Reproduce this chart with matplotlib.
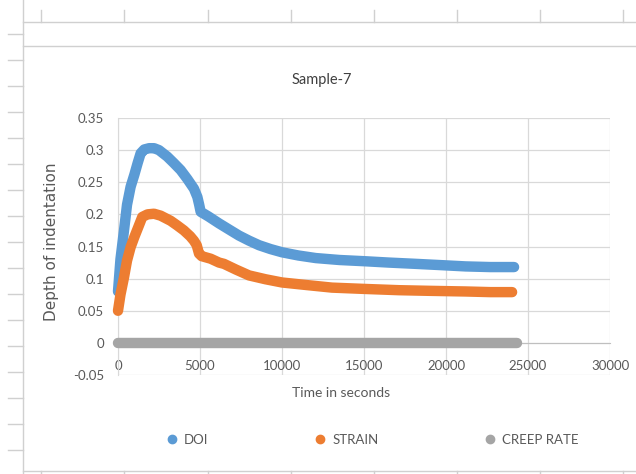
import matplotlib.pyplot as plt
from matplotlib.lines import Line2D

# values (time in s, depth)
doi_t = [0, 150, 366, 550, 770, 1000, 1200, 1380, 1600, 1900, 2200, 2500, 3000, 3400,
         3820, 4230, 4630, 4840, 4950, 5040, 5500, 6160, 6800, 7380, 8000, 8600, 9300,
         10000, 11000, 12060, 13500, 15100, 16500, 18150, 19700, 21200, 22700, 24150]
doi_v = [0.08, 0.13, 0.175, 0.215, 0.243, 0.262, 0.28, 0.295, 0.301, 0.303, 0.303, 0.3,
         0.29, 0.28, 0.269, 0.255, 0.24, 0.227, 0.215, 0.204, 0.197, 0.186, 0.176, 0.167,
         0.159, 0.152, 0.146, 0.141, 0.136, 0.132, 0.129, 0.127, 0.125, 0.123, 0.121,
         0.119, 0.118, 0.118]

strain_t = [0, 150, 366, 550, 770, 1000, 1280, 1480, 1800, 2195, 2600, 3210, 3600, 4020,
            4400, 4630, 4800, 4940, 5100, 5650, 6160, 6460, 7200, 7990, 9000, 10000,
            11500, 13050, 15000, 17130, 19000, 21200, 22700, 24030]
strain_v = [0.05, 0.075, 0.102, 0.128, 0.149, 0.165, 0.183, 0.196, 0.2, 0.201, 0.198,
            0.19, 0.183, 0.175, 0.166, 0.159, 0.152, 0.139, 0.135, 0.131, 0.125, 0.123,
            0.114, 0.105, 0.099, 0.094, 0.09, 0.086, 0.084, 0.082, 0.081, 0.080, 0.079,
            0.079]

creep_t = [0, 5000, 10000, 15000, 20000, 24300]
creep_v = [0, 0, 0, 0, 0, 0]

series = [("DOI", doi_t, doi_v, "#5B9BD5"),
          ("STRAIN", strain_t, strain_v, "#ED7D31"),
          ("CREEP RATE", creep_t, creep_v, "#A5A5A5")]

plt.rcParams['font.family'] = ['Lato', 'DejaVu Sans']
txt = '#595959'
grid = '#D9D9D9'

fig = plt.figure(figsize=(6.36, 4.74), dpi=100)
W, H = 636, 474

def fx(px):
    return px / W

def fy(py):
    return 1 - py / H

# spreadsheet frame around the chart
frame = '#D0D0D0'
fig.add_artist(Line2D([fx(23), fx(23)], [fy(0), fy(474)], color=frame, lw=1))
fig.add_artist(Line2D([fx(23), fx(636)], [fy(22), fy(22)], color=frame, lw=1))
fig.add_artist(Line2D([fx(23), fx(636)], [fy(46), fy(46)], color=frame, lw=1))
fig.add_artist(Line2D([fx(23), fx(636)], [fy(471), fy(471)], color=frame, lw=1))
for px in [41, 124, 208, 291, 374, 457, 540, 623]:
    fig.add_artist(Line2D([fx(px), fx(px)], [fy(10), fy(22)], color=frame, lw=1))
    fig.add_artist(Line2D([fx(px), fx(px)], [fy(471), fy(474)], color=frame, lw=1))
for py in range(34, 470, 26):
    fig.add_artist(Line2D([fx(8), fx(23)], [fy(py), fy(py)], color=frame, lw=1))

ax = fig.add_axes([fx(118), fy(375), fx(610) - fx(118), fy(118) - fy(375)])

for name, t, v, c in series:
    ax.plot(t, v, '-', color=c, lw=7.5, solid_capstyle='round',
            solid_joinstyle='round', clip_on=False, zorder=3)

ax.set_xlim(0, 30000)
ax.set_ylim(-0.05, 0.35)
ax.set_xticks(range(0, 30001, 5000))
ax.set_yticks([-0.05, 0, 0.05, 0.1, 0.15, 0.2, 0.25, 0.3, 0.35])
ax.set_yticklabels(['-0.05', '0', '0.05', '0.1', '0.15', '0.2', '0.25', '0.3', '0.35'])
ax.grid(True, color=grid, lw=0.9)
ax.set_axisbelow(True)
for s in ['top', 'right']:
    ax.spines[s].set_visible(False)
ax.spines['bottom'].set_position(('data', 0))
ax.spines['bottom'].set_color('#BFBFBF')
ax.spines['left'].set_color(grid)
ax.tick_params(length=0, labelsize=9.5, colors=txt)
ax.tick_params(axis='x', pad=12)
ax.tick_params(axis='y', pad=10)

ax.set_xlabel('Time in seconds', fontsize=10, color=txt)
ax.xaxis.set_label_coords(0.453, -0.045)
ax.set_ylabel('Depth of indentation', fontsize=11, color=txt,
              family='DejaVu Sans')
ax.yaxis.set_label_coords(-0.12, 0.52)

fig.text(fx(322), fy(80), 'Sample-7', ha='center', va='center', fontsize=10.5,
         color='#404040')

handles = [Line2D([], [], ls='none', marker='o', ms=6, color=c) for _, _, _, c in series]
fig.legend(handles, [s[0] for s in series], loc='center', ncol=3, frameon=False,
           bbox_to_anchor=(fx(372), fy(440)), fontsize=9.5, labelcolor=txt,
           columnspacing=8.0, handletextpad=0.4, handlelength=1.0)

fig.savefig('out.png', dpi=100)
